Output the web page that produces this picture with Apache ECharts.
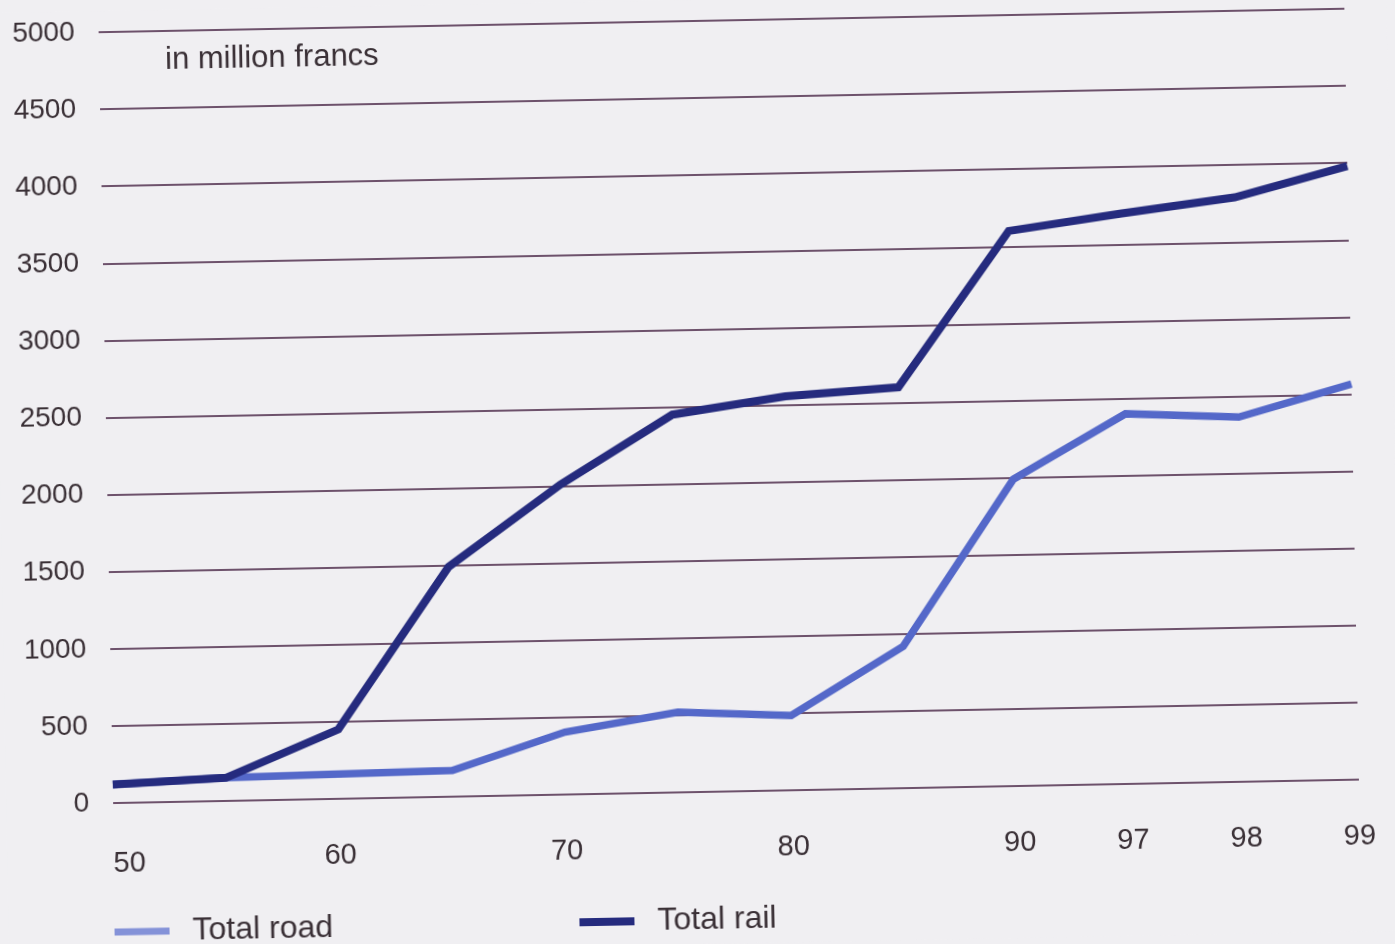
<!DOCTYPE html>
<html>
<head>
<meta charset="utf-8">
<script src="https://cdn.jsdelivr.net/npm/echarts@6/dist/echarts.min.js"></script>
<style>
html, body { margin: 0; padding: 0; background: #f0eff2; overflow: hidden; }
#chart { width: 1395px; height: 944px; transform: rotate(-1.08deg); transform-origin: 697.5px 472px; }
</style>
</head>
<body>
<div id="chart"></div>
<script>
// Years (x categories) and which of them carry a tick label
const years = ['50', '55', '60', '65', '70', '75', '80', '85', '90', '97', '98', '99'];
const yearLabels = ['50', '', '60', '', '70', '', '80', '', '90', '97', '98', '99'];

// Values in million francs
const totalRoad = [120, 150, 160, 170, 405, 520, 485, 920, 1990, 2400, 2365, 2565];
const totalRail = [120, 150, 450, 1490, 2010, 2450, 2555, 2600, 3600, 3700, 3790, 3980];

// Y axis ticks
const yMin = 0;
const yMax = 5000;
const yStep = 500;

const unitLabel = 'in million francs';
const seriesNames = ['Total road', 'Total rail'];

const FONT = '"Liberation Sans", Arial, Helvetica, sans-serif';
const TEXT = '#3a3036';
const GRID = '#421c3e';
const ROAD = '#5468c9';
const RAIL = '#252b7e';

const chart = echarts.init(document.getElementById('chart'));
chart.setOption({
  backgroundColor: '#f0eff2',
  animation: false,
  grid: { left: 107, right: 42, top: 21, bottom: 152, containLabel: false },
  xAxis: {
    type: 'category',
    data: years,
    boundaryGap: false,
    axisLine: { show: false },
    axisTick: { show: false },
    splitLine: { show: false },
    axisLabel: {
      interval: 0,
      margin: 42,
      color: TEXT,
      fontSize: 29,
      fontFamily: FONT,
      formatter: function (v, i) {
        const t = yearLabels[i];
        if (!t) return '';
        return i === 0 ? '{first|' + t + '}' : t;
      },
      rich: { first: { fontSize: 29, fontFamily: FONT, color: TEXT, padding: [4, 0, 0, 31] } }
    }
  },
  yAxis: {
    type: 'value',
    min: yMin,
    max: yMax,
    interval: yStep,
    axisLine: { show: false },
    axisTick: { show: false },
    axisLabel: { margin: 24, color: TEXT, fontSize: 28, fontFamily: FONT, formatter: function (v) { return String(v); } },
    splitLine: { show: true, lineStyle: { color: GRID, width: 1.5 } }
  },
  legend: [
    {
      data: [{ name: seriesNames[0], icon: 'rect', itemStyle: { color: '#8492d8' } }],
      left: 106, top: 905, padding: 0,
      itemWidth: 55, itemHeight: 7,
      textStyle: { color: TEXT, fontSize: 32, fontFamily: FONT, padding: [0, 0, 20, 18] }
    },
    {
      data: [{ name: seriesNames[1], icon: 'rect', itemStyle: { color: RAIL } }],
      left: 571, top: 904, padding: 0,
      itemWidth: 55, itemHeight: 8,
      textStyle: { color: TEXT, fontSize: 32, fontFamily: FONT, padding: [0, 0, 20, 18] }
    }
  ],
  graphic: [
    {
      type: 'text', left: 173, top: 35,
      style: { text: unitLabel, fontSize: 31, fontFamily: FONT, fill: TEXT }
    }
  ],
  series: [
    {
      name: seriesNames[0], type: 'line', data: totalRoad, symbol: 'none',
      lineStyle: { color: ROAD, width: 7.5, join: 'miter' }, itemStyle: { color: ROAD }, z: 2
    },
    {
      name: seriesNames[1], type: 'line', data: totalRail, symbol: 'none',
      lineStyle: { color: RAIL, width: 8, join: 'miter' }, itemStyle: { color: RAIL }, z: 3
    }
  ]
});
</script>
</body>
</html>
